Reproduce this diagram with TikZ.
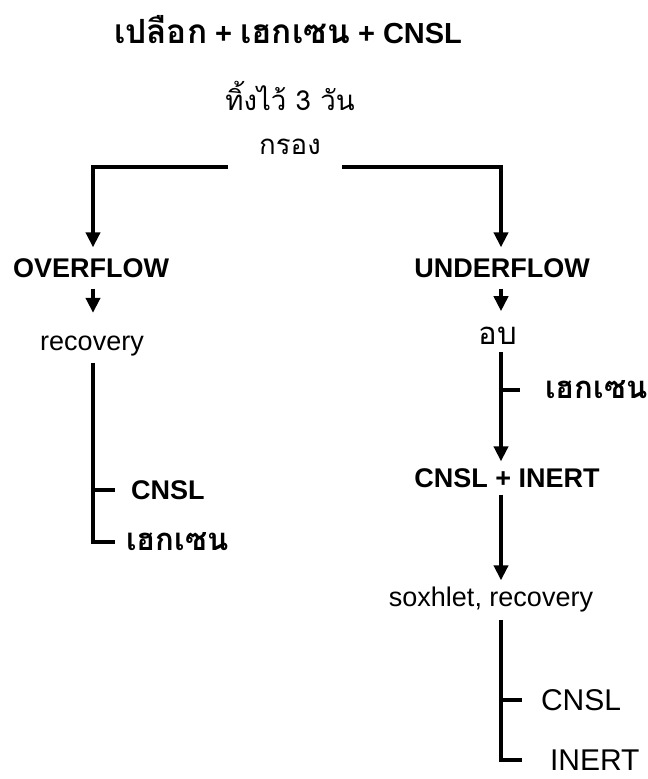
\documentclass[tikz,border=0pt]{standalone}
\usepackage{fontspec}
\setmainfont{Liberation Sans}
\newfontfamily\thaifont[Script=Thai,Scale=1.15]{Loma}
\usetikzlibrary{arrows.meta,positioning,calc}

\tikzset{
  line/.style={line width=2pt},
  flow/.style={line width=2pt,-{Triangle[length=7.5pt,width=7pt]}},
  title/.style={font=\fontsize{14.5}{17}\selectfont\bfseries},
  bold/.style={font=\fontsize{13.5}{16}\selectfont\bfseries},
  plain/.style={font=\fontsize{13.5}{16}\selectfont},
  small/.style={font=\fontsize{12}{14}\selectfont},
  large/.style={font=\fontsize{15}{18}\selectfont},
}

\begin{document}
\begin{tikzpicture}[x=0.5pt,y=-0.5pt]
  \useasboundingbox (0,0) rectangle (647,779);
  % columns of the two streams
  \coordinate (colL) at (93,0);
  \coordinate (colR) at (501,0);
  % feed and filtering
  \node[title] (feed) at (288,30) {{\thaifont เปลือก} + {\thaifont เฮกเซน} + CNSL};
  \node[small] (soak) at (290,96) {\thaifont ทิ้งไว้ 3 วัน};
  \node[small] (filter) at (290,147) {\thaifont กรอง};
  \coordinate (fl) at (228,167);
  \coordinate (fr) at (342,167);
  % overflow side
  \node[bold] (over) at (91,268) {OVERFLOW};
  \node[plain] (rec) at (92,346) {recovery};
  \node[bold, anchor=west] (lcnsl) at (124,490) {CNSL};
  \node[bold, anchor=west] (lhex) at (119,542) {\thaifont เฮกเซน};
  \draw[flow, shorten >=2pt] (fl) -| (colL |- over.north);
  \draw[flow, shorten <=2pt, shorten >=8pt] (colL |- over.south) -- (colL |- rec.north);
  \draw[line, shorten >=2pt] (colL |- rec.south) |- (lhex.west);
  \draw[line, shorten >=4.5pt] (colL |- lcnsl.west) -- (lcnsl.west);
  % underflow side
  \node[bold] (under) at (502,268) {UNDERFLOW};
  \node[plain] (ob) at (498,336) {\thaifont อบ};
  \node[bold, anchor=west] (rhex) at (538,390) {\thaifont เฮกเซน};
  \node[bold] (cni) at (507,478) {CNSL + INERT};
  \node[plain] (sox) at (491,600) {soxhlet, recovery};
  \node[large, anchor=west] (rcnsl) at (534,700) {CNSL};
  \node[large, anchor=west] (inert) at (543,760) {INERT};
  \draw[flow, shorten >=2pt] (fr) -| (colR |- under.north);
  \draw[flow, shorten <=2pt, shorten >=4.5pt] (colR |- under.south) -- (colR |- ob.north);
  \draw[flow] (colR |- ob.south) -- (colR |- cni.north);
  \draw[line, shorten >=9pt] (colR |- rhex.west) -- (rhex.west);
  \draw[flow] (colR |- cni.south) -- (colR |- sox.north);
  \draw[line, shorten >=10.5pt] (colR |- sox.south) |- (inert.west);
  \draw[line, shorten >=6pt] (colR |- rcnsl.west) -- (rcnsl.west);
\end{tikzpicture}
\end{document}
